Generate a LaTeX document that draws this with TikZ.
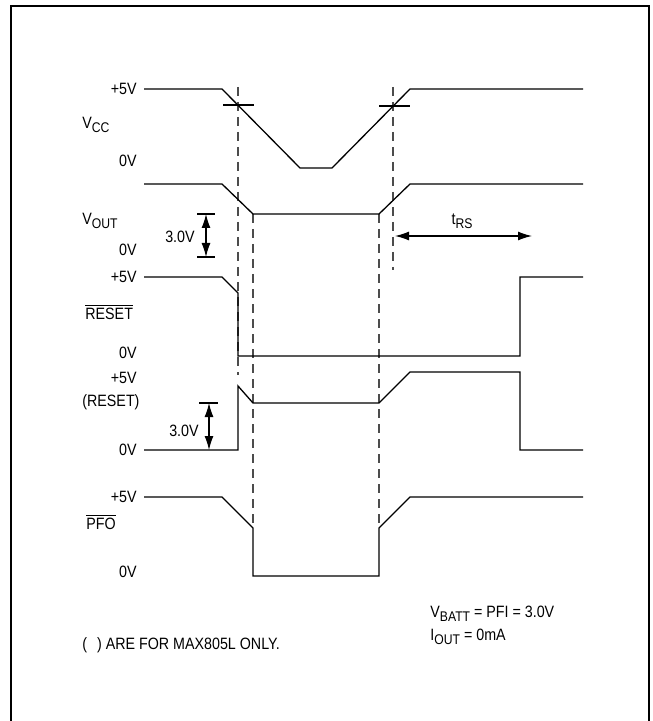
\documentclass[tikz,border=0pt]{standalone}
\usepackage{fontspec}
\setmainfont{Liberation Sans}[FakeStretch=0.87]
\usetikzlibrary{arrows.meta}
\newcommand{\lowsub}[1]{\raisebox{-0.45ex}{\fontsize{7}{8}\selectfont #1}}

\begin{document}
\begin{tikzpicture}[x=0.5pt, y=-0.5pt, font=\fontsize{8.2}{9.8}\selectfont]
      \tikzset{
	  wave/.style={line width=0.65pt, line join=miter},
	  guide/.style={dash pattern=on 4.5pt off 3pt, line width=0.6pt, draw=black!70},
	  tick/.style={line width=0.65pt},
	  lvl/.style={anchor=east, inner sep=0pt},
	  sig/.style={anchor=west, inner sep=0pt},
	  dimarrow/.style={line width=0.65pt, {Latex[length=7pt,width=4.5pt]}-{Latex[length=7pt,width=4.5pt]}}
      }
      \useasboundingbox (0,0) rectangle (652,721);
      \draw[line width=1pt] (10.5,721) |- (648.5,6.5) -- (648.5,721);

      % level and signal labels
      \node at (137,89) [lvl] (vcchi) {+5V};
      \node at (82,125) [sig] (vcc) {V\lowsub{CC}};
      \node at (137,161) [lvl] (vcclo) {0V};
      \node at (82,221) [sig] (vout) {V\lowsub{OUT}};
      \node at (137,250) [lvl] (voutlo) {0V};
      \node at (137,277) [lvl] (rstnhi) {+5V};
      \node at (85,312) [sig] (rstn) {$\overline{\mbox{RESET}}$};
      \node at (137,353) [lvl] (rstnlo) {0V};
      \node at (137,378) [lvl] (rsthi) {+5V};
      \node at (82,402) [sig] (rst) {(RESET)};
      \node at (137,450) [lvl] (rstlo) {0V};
      \node at (137,497) [lvl] (pfohi) {+5V};
      \node at (86,522) [sig] (pfo) {$\overline{\mbox{PFO}}$};
      \node at (137,572) [lvl] (pfolo) {0V};

      % guide lines
      \draw[guide] (238,87) -- (238,375);
      \draw[guide] (393,87) -- (393,270);
      \draw[guide] (253,214) -- (253,528);
      \draw[guide] (379,214) -- (379,528);

      % waveforms
      \draw[wave] (144,89) -- (222,89) -- (300,168) -- (332,168) -- (410,89) -- (583,89);
      \draw[tick] (223,105) -- (254,105);
      \draw[tick] (379,106) -- (410,106);
      \draw[wave] (144,184) -- (222,184) -- (253,214) -- (379,214) -- (410,184) -- (583,184);
      \draw[wave] (144,277) -- (222,277) -- (238,293) -- (238,356) -- (520,356) -- (520,277) -- (583,277);
      \draw[wave] (144,450) -- (238,450) -- (238,386) -- (253,403) -- (379,403) -- (410,372) -- (520,372) -- (520,450) -- (583,450);
      \draw[wave] (144,497) -- (222,497) -- (253,528) -- (253,576) -- (379,576) -- (379,528) -- (410,497) -- (583,497);

      % 3.0V on VOUT
      \draw[tick] (197,214) -- (215,214);
      \draw[tick] (197,257) -- (215,257);
      \coordinate (va) at (206,214);
      \coordinate (vb) at (206,257);
      \draw[dimarrow] (va) -- (vb);
      \node at (195,237) [lvl] (vdim) {3.0V};

      % 3.0V on (RESET)
      \draw[tick] (199,403) -- (218,403);
      \coordinate (ra) at (209,403);
      \coordinate (rb) at (209,450);
      \draw[dimarrow] (ra) -- (rb);
      \node at (199,431) [lvl] (rdim) {3.0V};

      % reset timeout
      \coordinate (ta) at (395,236);
      \coordinate (tb) at (532,236);
      \draw[dimarrow] (ta) -- (tb);
      \node at (462,221) (trs) {t\lowsub{RS}};

      % notes
      \node at (430,614) [sig] (cond1) {V\lowsub{BATT} = PFI = 3.0V};
      \node at (430,637) [sig] (cond2) {I\lowsub{OUT} = 0mA};
      \node at (82,645) [sig] (note) {(\hspace{5pt}) ARE FOR MAX805L ONLY.};
\end{tikzpicture}
\end{document}
